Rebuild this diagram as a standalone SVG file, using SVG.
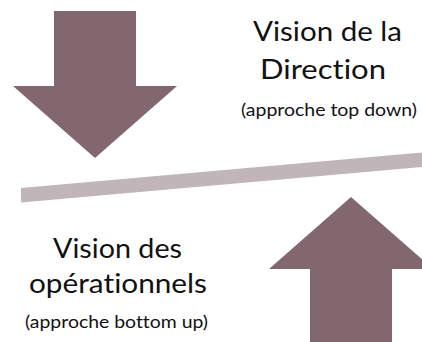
<svg xmlns="http://www.w3.org/2000/svg" width="422" height="342" viewBox="0 0 422 342">
  <style>
    .arrow { fill: #82676e; }
    .bar { fill: #c0b5b8; }
    text { font-family: Lato, "Open Sans", "Liberation Sans", sans-serif; fill: #111; font-variant-ligatures: none; font-feature-settings: "liga" 0, "clig" 0; }
    .title { font-size: 27px; }
    .note { font-size: 17px; }
  </style>
  <rect width="422" height="342" fill="#ffffff"/>

  <!-- top-down block arrow -->
  <g id="arrow-down">
    <polygon class="arrow" points="54,11 136,11 136,86 177,86 95,158 13,86 54,86"/>
  </g>

  <!-- tilted balance bar -->
  <g id="balance-bar">
    <polygon class="bar" points="21,188 422,152.5 422,167 21,202.5"/>
  </g>

  <!-- bottom-up block arrow -->
  <g id="arrow-up">
    <polygon class="arrow" points="351,197 433,269 392,269 392,342 310,342 310,269 269,269"/>
  </g>

  <g id="label-direction">
    <text class="title" x="253" y="41" textLength="149" lengthAdjust="spacingAndGlyphs">Vision de la</text>
    <text class="title" x="260" y="79" textLength="126" lengthAdjust="spacingAndGlyphs">Direction</text>
    <text class="note" x="241" y="116" textLength="176" lengthAdjust="spacingAndGlyphs">(approche top down)</text>
  </g>

  <g id="label-operationnels">
    <text class="title" x="53" y="258" textLength="129" lengthAdjust="spacingAndGlyphs">Vision des</text>
    <text class="title" x="29" y="293" textLength="178" lengthAdjust="spacingAndGlyphs">opérationnels</text>
    <text class="note" x="25" y="328" textLength="183" lengthAdjust="spacingAndGlyphs">(approche bottom up)</text>
  </g>
</svg>
